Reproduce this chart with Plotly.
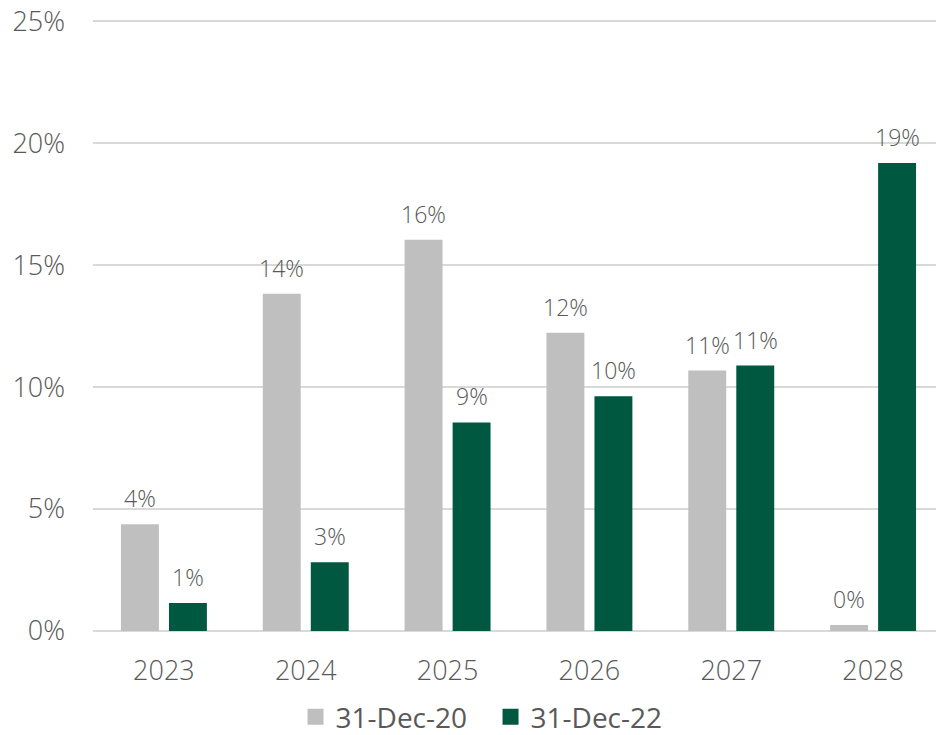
import plotly.graph_objects as go

years = ["2023", "2024", "2025", "2026", "2027", "2028"]
dec20 = [4.38, 13.83, 16.04, 12.23, 10.68, 0.25]
dec22 = [1.15, 2.82, 8.55, 9.62, 10.88, 19.19]
series_names = ["31-Dec-20", "31-Dec-22"]

GREY = "#BFBFBF"
GREEN = "#005841"
TEXT = "#595959"
FONT = "Open Sans"

fig = go.Figure()
for name, vals, col in [(series_names[0], dec20, GREY), (series_names[1], dec22, GREEN)]:
    fig.add_trace(go.Bar(
        x=years,
        y=vals,
        name=name,
        marker=dict(color=col, line=dict(width=0)),
        showlegend=False,
    ))
    # legend-only entry with a larger square swatch
    fig.add_trace(go.Scatter(
        x=[None], y=[None],
        mode="markers",
        name=name,
        marker=dict(symbol="square", size=18, color=col),
    ))

# value labels above each bar (x given as category index)
for vals, shift in [(dec20, -24), (dec22, 24)]:
    for i, v in enumerate(vals):
        fig.add_annotation(
            x=i, y=v, xshift=shift, yshift=8,
            text=f"{round(v):.0f}%",
            showarrow=False, yanchor="bottom",
            font=dict(family=FONT, size=23, color=TEXT, weight=300),
        )

# page body has an 8px margin, so the figure is sized 8px smaller
fig.update_layout(
    width=936,
    height=727,
    barmode="group",
    bargap=0.323,
    bargroupgap=0.21,
    plot_bgcolor="white",
    paper_bgcolor="white",
    margin=dict(l=85, r=0, t=12, b=104, autoexpand=False),
    font=dict(family=FONT, color=TEXT),
    showlegend=True,
    legend=dict(
        orientation="h",
        x=0.238, xanchor="left",
        y=-0.1, yanchor="top",
        font=dict(family=FONT, size=28, color=TEXT),
        itemwidth=30,
        entrywidth=150,
        itemsizing="trace",
    ),
    yaxis=dict(
        range=[0, 25.05],
        tickvals=[0, 5, 10, 15, 20, 25],
        ticktext=["0%", "5%", "10%", "15%", "20%", "25%"],
        showgrid=True,
        gridcolor="#D9D9D9",
        gridwidth=2,
        zeroline=True,
        zerolinecolor="#D9D9D9",
        zerolinewidth=2,
        ticks="",
        automargin=False,
        ticklabelstandoff=27,
        ticklabeloverflow="allow",
        tickfont=dict(family=FONT, size=27, color=TEXT, weight=300),
    ),
    xaxis=dict(
        type="category",
        range=[-0.5, 5.5],
        showline=False,
        ticks="",
        automargin=False,
        ticklabelstandoff=21,
        tickfont=dict(family=FONT, size=27, color=TEXT, weight=300),
    ),
)

fig.write_html("out.html")
